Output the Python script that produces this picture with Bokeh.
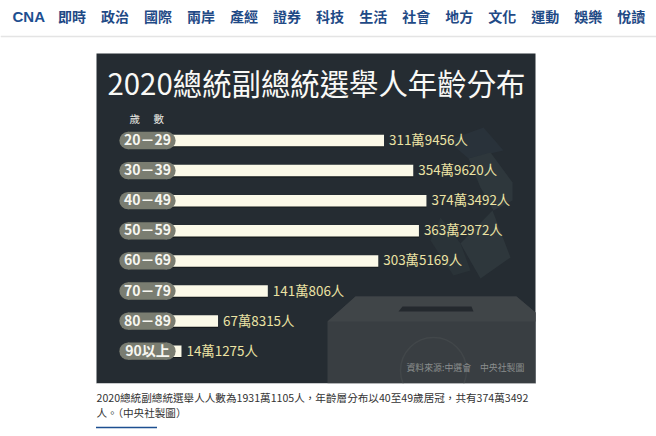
from bokeh.core.properties import value
from bokeh.embed import file_html
from bokeh.models import Range1d
from bokeh.plotting import figure
from bokeh.resources import INLINE

# data
age_groups = ["20-29", "30-39", "40-49", "50-59", "60-69", "70-79", "80-89", "90以上"]
voters = [3119456, 3549620, 3743492, 3632972, 3035169, 1410806, 678315, 141275]
voter_labels = ["311萬9456人", "354萬9620人", "374萬3492人", "363萬2972人",
                "303萬5169人", "141萬806人", "67萬8315人", "14萬1275人"]
nav_items = ["即時", "政治", "國際", "兩岸", "產經", "證券", "科技", "生活",
             "社會", "地方", "文化", "運動", "娛樂", "悅讀"]
title = "2020總統副總統選舉人年齡分布"
caption = ["2020總統副總統選舉人人數為1931萬1105人，年齡層分布以40至49歲居冠，共有374萬3492",
           "人。（中央社製圖）"]

W, H = 656, 436
CJK = value("Noto Sans CJK TC")

p = figure(width=W, height=H, x_range=Range1d(0, W), y_range=Range1d(H, 0),
           output_backend="svg", toolbar_location=None, min_border=0,
           background_fill_color="white", border_fill_color="white", outline_line_color=None)
p.xaxis.visible = False
p.yaxis.visible = False
p.grid.visible = False

# value scale: 0 at px 171.4, 0.068 px per 1000 voters
slope = 0.68 / 10000
x0 = 171.4
p.extra_x_ranges["voters"] = Range1d(-x0 / slope, (W - x0) / slope)
# row scale: first row at y=140, 30.1 px per row
row_h = 30.1
y0 = 140
p.extra_y_ranges["row"] = Range1d((H - y0) / row_h, -y0 / row_h)

# nav
p.text([12], [15.5], text=["CNA"], text_font=value("Liberation Sans"), text_font_style="bold",
       text_font_size="15px", text_color="#1d4f91", text_baseline="middle")
p.text([57.5 + i * 43.02 for i in range(len(nav_items))], [15.5] * len(nav_items), text=nav_items,
       text_font=CJK, text_font_size="14px", text_font_style="bold", text_color="#1f4a86",
       text_baseline="middle")
p.rect([W / 2], [36], width=W, height=1.5, fill_color="#e4e4e4", line_color=None)

# panel
p.quad(left=[96], right=[535], top=[53], bottom=[383], fill_color="#252c32", line_color=None)

# faint ballot papers behind the bars
p.patch([447, 483, 503, 468], [140, 127, 150, 158], fill_color="#29323a", line_color=None)
p.patch([468, 490, 512, 512, 493, 480], [158, 152, 182, 200, 210, 187], fill_color="#2e373c", line_color=None)
p.patch([460, 492, 510, 480], [243, 210, 257, 278], fill_color="#2e373c", line_color=None)
p.patch([440, 460, 470, 453, 430], [217, 243, 270, 275, 240], fill_color="#2a3338", line_color=None)

# ballot box
p.patch([327, 355, 516, 535, 535, 327], [321, 296, 296, 312, 383, 383], fill_color="#393e42", line_color=None)
p.patch([327, 355, 516, 535, 535], [321, 296, 296, 312, 321], fill_color="#404548", line_color=None)
p.patch([398, 402, 471, 473], [311, 306, 306, 311], fill_color="#24292e", line_color=None)
# emblem on the box, its lower part hidden below the panel edge
p.scatter([433], [370], size=66, marker="circle", fill_color=None, line_color="#42474a", line_width=1.5)
p.quad(left=[96], right=[535], top=[383], bottom=[405], fill_color="white", line_color=None)

# header
p.text([107], [81.5], text=[title], text_font=CJK, text_font_size="29.4px",
       text_color="#f9f9f6", text_baseline="middle")
p.text([129, 153], [117.5, 117.5], text=["歲", "數"], text_font=CJK, text_font_size="10.5px",
       text_color="#e8e8e2", text_baseline="middle")

rows = list(range(len(age_groups)))

# bars from the data, with their dark lower edge
p.hbar(y=[r + 1 / row_h for r in rows], left=0, right=voters, height=11.7 / row_h, fill_color="#14181b",
       line_color=None, x_range_name="voters", y_range_name="row")
p.hbar(y=rows, left=0, right=voters, height=11.5 / row_h, fill_color="#fbf9e8", line_color=None,
       x_range_name="voters", y_range_name="row")

# age pills
p.hbar(y=rows, left=127.5, right=166.5, height=17.3 / row_h, fill_color="#7a7d71", line_color=None,
       y_range_name="row")
p.scatter(x=[127.5] * 8, y=rows, size=17.3, marker="circle", fill_color="#7a7d71", line_color=None,
          y_range_name="row")
p.scatter(x=[166.5] * 8, y=rows, size=17.3, marker="circle", fill_color="#7a7d71", line_color=None,
          y_range_name="row")
p.text(x=[147] * 8, y=rows, y_offset=-1.5, text=[a.replace("-", "－") for a in age_groups], text_font=CJK,
       text_font_size="14px", text_font_style="bold", text_color="#f6f6f0", text_align="center",
       text_baseline="middle", y_range_name="row")

# value labels
p.text(x=voters, y=rows, x_offset=5, y_offset=-1.5, text=voter_labels, text_font=CJK, text_font_size="13.4px",
       text_color="#ece3a4", text_baseline="middle", x_range_name="voters", y_range_name="row")

# source
p.text([406], [367], text=["資料來源:中選會　中央社製圖"], text_font=CJK, text_font_size="8.9px",
       text_color="#8b8e8e", text_baseline="middle")

# caption
p.text([96, 96], [397, 412], text=caption, text_font=CJK, text_font_size="10.6px",
       text_color="#333333", text_baseline="middle")
p.rect([126], [427], width=61, height=1.5, fill_color="#1d4f91", line_color=None)

open("out.html", "w").write(file_html(p, INLINE))
